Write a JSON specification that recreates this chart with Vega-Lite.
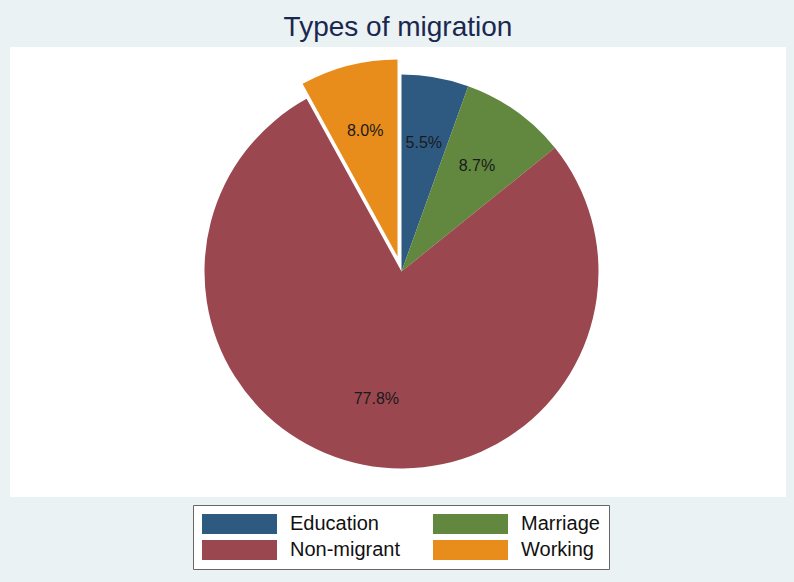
{
  "$schema": "https://vega.github.io/schema/vega-lite/v6.json",
  "width": 776,
  "height": 450,
  "autosize": {"type": "none"},
  "padding": {"left": 10, "top": 47, "right": 8, "bottom": 85},
  "background": "#EAF2F3",
  "title": {
    "text": "Types of migration",
    "fontSize": 28,
    "font": "Liberation Sans",
    "fontWeight": "normal",
    "color": "#1A2850",
    "anchor": "middle",
    "offset": 5
  },
  "data": {
    "values": [
      {"type": "Education", "pct": 0.055},
      {"type": "Marriage", "pct": 0.087},
      {"type": "Non-migrant", "pct": 0.778},
      {"type": "Working", "pct": 0.080}
    ]
  },
  "encoding": {
    "theta": {"field": "pct", "type": "quantitative", "stack": true},
    "order": {"field": "type", "sort": "ascending"}
  },
  "layer": [
    {
      "data": {"values": [{"bg": 1}]},
      "mark": {"type": "rect", "color": "white"},
      "encoding": {
        "theta": null,
        "order": null,
        "x": {"value": 0},
        "x2": {"value": "width"},
        "y": {"value": 0},
        "y2": {"value": "height"}
      }
    },
    {
      "mark": {"type": "arc", "outerRadius": 197, "xOffset": 3.5, "yOffset": -0.5},
      "encoding": {
        "color": {
          "field": "type",
          "type": "nominal",
          "scale": {
            "domain": ["Education", "Marriage", "Non-migrant", "Working"],
            "range": ["#2E5A82", "#62873F", "#9A4750", "#E88C1C"]
          },
          "legend": {
            "title": null,
            "orient": "none",
            "legendX": 183,
            "legendY": 458,
            "direction": "horizontal",
            "columns": 2,
            "padding": 9,
            "fillColor": "white",
            "strokeColor": "#666666",
            "symbolType": "M-1,-1L6.5,-1L6.5,1L-1,1Z",
            "symbolSize": 400,
            "symbolStrokeWidth": 0,
            "symbolOpacity": 1,
            "labelFont": "Liberation Sans",
            "labelFontSize": 20,
            "labelColor": "#111111",
            "labelOffset": 68,
            "columnPadding": 32,
            "rowPadding": 6
          }
        },
        "opacity": {"condition": {"test": "datum.type === 'Working'", "value": 0}, "value": 1}
      }
    },
    {
      "mark": {"type": "arc", "outerRadius": 197, "xOffset": -0.5, "yOffset": -15.5},
      "encoding": {
        "color": {"field": "type", "type": "nominal"},
        "opacity": {"condition": {"test": "datum.type === 'Working'", "value": 1}, "value": 0}
      }
    },
    {
      "mark": {"type": "text", "radius": 130, "xOffset": 3.5, "yOffset": -0.5, "font": "Liberation Sans", "fontSize": 16, "color": "#1a1a1a"},
      "encoding": {
        "text": {"field": "pct", "type": "quantitative", "format": ".1%"},
        "opacity": {"condition": {"test": "datum.type === 'Working'", "value": 0}, "value": 1}
      }
    },
    {
      "mark": {"type": "text", "radius": 130, "xOffset": -0.5, "yOffset": -15.5, "font": "Liberation Sans", "fontSize": 16, "color": "#1a1a1a"},
      "encoding": {
        "text": {"field": "pct", "type": "quantitative", "format": ".1%"},
        "opacity": {"condition": {"test": "datum.type === 'Working'", "value": 1}, "value": 0}
      }
    }
  ],
  "config": {
    "view": {"stroke": null}
  }
}
